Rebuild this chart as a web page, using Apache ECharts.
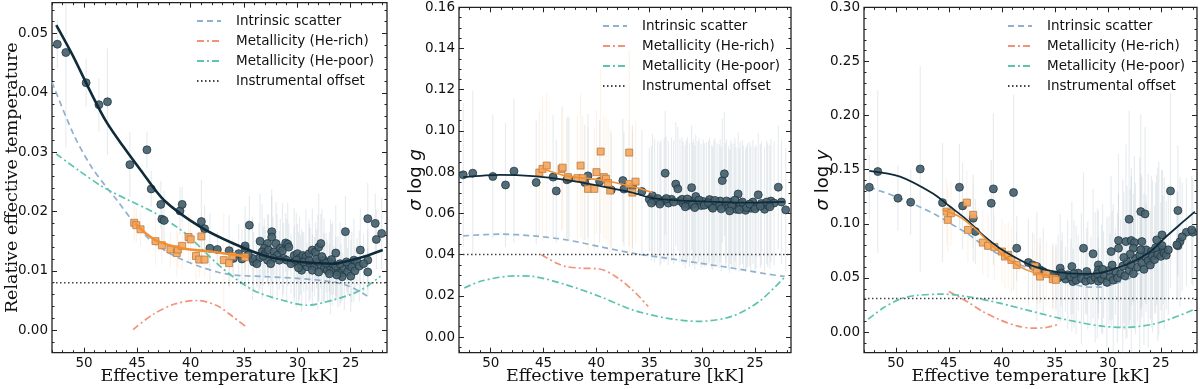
<!DOCTYPE html>
<html><head><meta charset="utf-8">
<script src="https://cdn.jsdelivr.net/npm/echarts@6/dist/echarts.min.js"></script>
<style>html,body{margin:0;padding:0;background:#fff}#c{width:1200px;height:389px}</style>
</head><body><div id="c"></div>
<script>
// ---------- DATA ----------
const xTicks = [25, 30, 35, 40, 45, 50];
const yTicks1 = [0, 0.01, 0.02, 0.03, 0.04, 0.05];
const yTicks2 = [0, 0.02, 0.04, 0.06, 0.08, 0.10, 0.12, 0.14, 0.16];
const yTicks3 = [0, 0.05, 0.10, 0.15, 0.20, 0.25, 0.30];
const legendNames = ['Intrinsic scatter', 'Metallicity (He-rich)', 'Metallicity (He-poor)', 'Instrumental offset'];

// Panel 1: relative effective temperature  [Teff kK, value, error]
const p1Circles = [
[52.5,0.0482,0.004],[51.7,0.0468,0.016],[49.8,0.0417,0.004],[48.6,0.0380,0.0045],[47.8,0.0385,0.009],
[45.7,0.0279,0.0055],[44.1,0.0304,0.003],[43.7,0.0238,0.003],[42.8,0.0212,0.004],[42.7,0.0187,0.0035],
[42.5,0.0185,0.005],[41.0,0.0201,0.004],[40.8,0.0212,0.003],[39.0,0.0183,0.007],[38.7,0.0171,0.004],
[38.2,0.0138,0.006],[37.5,0.0136,0.003],[36.4,0.0134,0.006],[36.0,0.0121,0.003],[35.5,0.0129,0.005],
[34.9,0.0138,0.007],[34.5,0.0177,0.005],[34.9,0.0142,0.004],[33.5,0.0150,0.008],[32.4,0.0166,0.006],
[32.4,0.0157,0.008],[32.8,0.0146,0.005],[32.0,0.0146,0.007],[33.1,0.0138,0.005],[33.3,0.0132,0.008],
[33.0,0.0129,0.004],[32.7,0.0135,0.006],[32.2,0.0132,0.004],[31.9,0.0126,0.007],[31.6,0.0138,0.005],
[31.4,0.0134,0.008],[31.1,0.0147,0.005],[30.9,0.0145,0.007],[30.8,0.0140,0.004],[31.3,0.0121,0.006],
[31.7,0.0118,0.005],[32.3,0.0121,0.007],[32.8,0.0118,0.004],[33.6,0.0121,0.006],[34.1,0.0115,0.005],
[34.2,0.0121,0.007],[33.8,0.0112,0.004],[30.3,0.0126,0.008],[30.0,0.0129,0.005],[29.8,0.0121,0.007],
[29.5,0.0126,0.004],[29.2,0.0124,0.008],[28.9,0.0129,0.005],[28.6,0.0135,0.007],[28.3,0.0132,0.005],
[28.0,0.0140,0.009],[27.8,0.0146,0.005],[30.3,0.0115,0.006],[29.7,0.0110,0.005],[29.6,0.0101,0.007],
[29.1,0.0107,0.004],[28.8,0.0112,0.006],[28.4,0.0107,0.005],[28.1,0.0115,0.008],[27.8,0.0110,0.004],
[27.5,0.0104,0.006],[27.2,0.0101,0.005],[26.9,0.0107,0.008],[26.6,0.0101,0.004],[26.2,0.0098,0.006],
[25.9,0.0096,0.005],[25.6,0.0104,0.007],[25.3,0.0098,0.004],[25.0,0.0091,0.006],[26.4,0.0130,0.008],
[25.5,0.0166,0.006],[24.7,0.0118,0.007],[24.4,0.0115,0.004],[24.1,0.0135,0.007],[23.4,0.0118,0.005],
[23.4,0.0098,0.004],[23.4,0.0188,0.006],[22.7,0.0180,0.005],[22.6,0.0153,0.005],[22.1,0.0163,0.006],
[27.5,0.0118,0.007],[27.0,0.0115,0.005],[26.7,0.0112,0.007],[25.2,0.0110,0.005],[28.6,0.0101,0.006],
[28.0,0.0098,0.005],[25.8,0.0090,0.004],[31.0,0.0118,0.007],[30.6,0.0112,0.005],[30.1,0.0118,0.008],
[29.4,0.0115,0.005],[28.9,0.0117,0.007],[28.2,0.0120,0.005],[27.7,0.0124,0.008],[27.3,0.0113,0.005],
[26.8,0.0119,0.006],[26.4,0.0108,0.005],[26.0,0.0112,0.007],[25.4,0.0115,0.005],[24.9,0.0106,0.006],
[24.6,0.0100,0.004],[32.5,0.0112,0.006],[33.2,0.0125,0.005],[34.6,0.0127,0.006],[35.2,0.0120,0.005],
[29.9,0.0105,0.006],[27.0,0.0095,0.005],[26.3,0.0093,0.004],[24.2,0.0108,0.006],[23.8,0.0112,0.005]
];
const p1Squares = [
[45.3,0.0181,0.003],[45.1,0.0177,0.003],[44.7,0.0170,0.003],[43.3,0.0150,0.004],[42.7,0.0143,0.003],
[41.9,0.0136,0.003],[41.3,0.0130,0.004],[41.2,0.0136,0.003],[40.8,0.0142,0.004],[40.2,0.0157,0.004],
[40.0,0.0153,0.004],[39.5,0.0125,0.004],[39.2,0.0119,0.003],[39.0,0.0158,0.004],[38.7,0.0119,0.003],
[36.9,0.0118,0.008],[36.4,0.0113,0.004],[36.1,0.0125,0.003],[34.9,0.0123,0.003]
];
const p1Fit = [[52.6,0.0514],[51.0,0.0461],[49.4,0.0402],[47.9,0.0351],[46.3,0.0309],[44.7,0.0270],[42.5,0.0219],[39.1,0.0174],[36.0,0.0146],[32.8,0.0124],[29.7,0.0115],[26.6,0.0112],[25.0,0.0118],[23.4,0.0126],[22.0,0.0135]];
const p1FitSq = [[45.2,0.0180],[44.2,0.0163],[43.1,0.0150],[40.9,0.0138],[38.4,0.0133],[35.9,0.0127],[34.6,0.0124]];
const p1Intrinsic = [[53.0,0.0418],[51.0,0.0331],[49.4,0.0278],[47.9,0.0241],[46.9,0.0219],[45.4,0.0183],[43.8,0.0152],[42.2,0.0132],[40.7,0.0118],[39.1,0.0107],[37.5,0.0098],[36.0,0.0093],[32.8,0.0090],[29.7,0.0087],[26.6,0.0081],[25.0,0.0073],[23.4,0.0057]];
const p1HeRich = [[45.4,0.0001],[43.5,0.0027],[41.5,0.0044],[39.4,0.0050],[37.5,0.0041],[36.0,0.0022],[34.9,0.0007]];
const p1HePoor = [[52.6,0.0297],[50.4,0.0268],[48.2,0.0241],[45.7,0.0218],[43.3,0.0197],[40.5,0.0163],[37.2,0.0107],[34.1,0.0067],[30.9,0.0048],[29.1,0.0042],[26.6,0.0051],[24.1,0.0067],[22.2,0.0091]];
const p1Offset = 0.0080;

// Panel 2: sigma log g
const p2Circles = [
[52.6,0.0787,0.035],[51.7,0.0795,0.04],[49.8,0.0779,0.03],[48.6,0.0738,0.03],[47.8,0.0805,0.035],
[45.7,0.0750,0.03],[44.1,0.0776,0.03],[43.8,0.0709,0.025],[42.8,0.0763,0.03],[42.6,0.0768,0.03],
[40.8,0.0782,0.03],[41.1,0.0750,0.028],[39.7,0.0755,0.03],[38.6,0.0714,0.028],[37.5,0.0759,0.03],
[37.4,0.0718,0.028],[36.6,0.0730,0.03],[35.7,0.0706,0.03],[34.7,0.0685,0.03],[33.5,0.0795,0.03],
[35.0,0.0668,0.025],[34.5,0.0660,0.03],[34.2,0.0672,0.028],[33.9,0.0655,0.03],[33.6,0.0663,0.03],
[33.2,0.0650,0.03],[32.9,0.0668,0.03],[32.5,0.0742,0.03],[32.3,0.0719,0.03],[32.1,0.0660,0.03],
[31.8,0.0648,0.03],[31.5,0.0655,0.03],[31.0,0.0725,0.03],[31.2,0.0640,0.03],[30.8,0.0662,0.03],
[30.6,0.0682,0.03],[30.4,0.0650,0.03],[30.1,0.0638,0.03],[29.9,0.0658,0.03],[29.6,0.0645,0.03],
[29.3,0.0667,0.03],[29.1,0.0632,0.03],[28.9,0.0652,0.03],[28.6,0.0640,0.03],[28.3,0.0660,0.03],
[28.1,0.0759,0.03],[27.9,0.0792,0.03],[27.8,0.0642,0.03],[27.5,0.0628,0.03],[27.3,0.0655,0.03],
[27.0,0.0638,0.03],[26.8,0.0620,0.03],[26.6,0.0694,0.03],[26.4,0.0648,0.03],[26.1,0.0630,0.03],
[25.9,0.0615,0.03],[25.7,0.0640,0.03],[25.4,0.0625,0.03],[25.2,0.0655,0.03],[24.9,0.0632,0.03],
[24.7,0.0690,0.03],[24.4,0.0648,0.03],[24.1,0.0620,0.03],[23.8,0.0640,0.03],[23.5,0.0660,0.03],
[23.2,0.0650,0.03],[22.8,0.0727,0.03],[22.5,0.0655,0.03],[22.1,0.0617,0.03],[34.8,0.0650,0.028],
[34.0,0.0645,0.03],[33.4,0.0672,0.03],[32.7,0.0655,0.03],[31.9,0.0668,0.03],[31.4,0.0670,0.03],
[30.9,0.0645,0.03],[30.3,0.0665,0.03],[29.8,0.0640,0.03],[29.4,0.0652,0.03],[28.8,0.0663,0.03],
[28.4,0.0635,0.03],[27.7,0.0660,0.03],[27.2,0.0640,0.03],[26.9,0.0665,0.03],[26.2,0.0655,0.03],
[25.8,0.0628,0.03],[25.5,0.0645,0.03],[25.0,0.0622,0.03],[24.5,0.0635,0.03],[23.9,0.0655,0.03],
[23.6,0.0632,0.03],[27.4,0.0612,0.03],[26.5,0.0618,0.03],[28.2,0.0622,0.03],[29.0,0.0625,0.03],
[30.7,0.0628,0.03],[31.6,0.0632,0.03]
];
const p2Squares = [
[45.4,0.0798,0.03],[45.1,0.0816,0.035],[44.7,0.0832,0.035],[43.3,0.0815,0.03],[43.2,0.0822,0.03],
[42.7,0.0776,0.03],[41.5,0.0832,0.035],[41.8,0.0771,0.03],[41.3,0.0771,0.03],[40.8,0.0719,0.03],
[40.2,0.0719,0.03],[40.0,0.0800,0.03],[39.6,0.0900,0.04],[39.3,0.0776,0.03],[39.1,0.0768,0.03],
[38.9,0.0747,0.03],[38.7,0.0711,0.03],[36.9,0.0895,0.05],[36.9,0.0743,0.03],[36.6,0.0701,0.03],[36.3,0.0754,0.03]
];
const p2Fit = [[52.6,0.0776],[49.1,0.0787],[46.0,0.0781],[42.9,0.0763],[39.7,0.0734],[36.6,0.0701],[34.7,0.0674],[31.9,0.0662],[28.8,0.0656],[25.6,0.0652],[22.2,0.0656]];
const p2FitSq = [[45.2,0.0819],[42.9,0.0782],[39.7,0.0763],[36.6,0.0730],[34.7,0.0701]];
const p2Intrinsic = [[52.6,0.0491],[49.1,0.0499],[46.0,0.0491],[42.9,0.0472],[39.7,0.0439],[36.6,0.0407],[33.4,0.0383],[30.3,0.0359],[27.2,0.0335],[24.0,0.0307],[22.2,0.0294]];
const p2HeRich = [[45.2,0.0399],[43.8,0.0359],[42.9,0.0342],[41.4,0.0334],[39.7,0.0330],[38.2,0.0294],[36.6,0.0229],[35.1,0.0148]];
const p2HePoor = [[52.5,0.0238],[50.8,0.0273],[47.7,0.0297],[46.0,0.0294],[42.9,0.0254],[39.7,0.0197],[36.6,0.0132],[33.4,0.0092],[30.3,0.0076],[27.2,0.0100],[24.6,0.0173],[22.2,0.0291]];
const p2Offset = 0.040;

// Panel 3: sigma log y
const p3Circles = [
[52.5,0.1338,0.03],[51.7,0.1483,0.075],[49.8,0.1237,0.03],[48.6,0.1200,0.03],[47.7,0.1507,0.095],
[45.6,0.1196,0.055],[44.0,0.1338,0.04],[43.7,0.1166,0.04],[42.7,0.1052,0.04],[42.5,0.0929,0.03],
[41.0,0.1190,0.04],[40.8,0.1323,0.07],[38.9,0.1289,0.09],[38.6,0.0775,0.03],[37.5,0.0643,0.04],
[37.1,0.0621,0.03],[36.7,0.0606,0.05],[36.4,0.0575,0.03],[36.1,0.0559,0.04],[34.9,0.0513,0.03],
[34.5,0.0591,0.05],[34.4,0.0545,0.03],[33.4,0.0606,0.06],[33.3,0.0467,0.03],[32.3,0.0775,0.07],
[31.4,0.0723,0.06],[30.9,0.0621,0.05],[30.9,0.0575,0.03],[29.7,0.0744,0.07],[29.0,0.0846,0.08],
[29.0,0.0775,0.05],[28.3,0.0836,0.09],[28.0,0.1043,0.1],[27.8,0.0846,0.06],[27.5,0.0827,0.08],
[27.6,0.0775,0.05],[26.9,0.1113,0.09],[26.5,0.1092,0.08],[26.8,0.0836,0.06],[26.4,0.0760,0.05],
[25.9,0.0744,0.07],[25.4,0.0852,0.06],[25.2,0.0775,0.08],[24.8,0.0760,0.05],[24.1,0.1304,0.09],
[23.4,0.1123,0.06],[23.4,0.0797,0.05],[23.2,0.0836,0.06],[22.6,0.0923,0.05],[22.0,0.0923,0.05],
[24.9,0.0898,0.06],[23.5,0.0806,0.05],[22.1,0.0944,0.05],[23.0,0.0880,0.05],
[35.2,0.0520,0.03],[34.7,0.0500,0.04],[34.0,0.0490,0.03],[33.8,0.0530,0.05],[33.5,0.0510,0.035],
[33.0,0.0480,0.05],[32.8,0.0545,0.035],[32.5,0.0495,0.06],[32.1,0.0470,0.03],[31.9,0.0525,0.05],
[31.6,0.0480,0.04],[31.2,0.0505,0.06],[30.9,0.0470,0.03],[30.6,0.0490,0.05],[30.4,0.0530,0.04],
[30.1,0.0460,0.06],[29.8,0.0510,0.04],[29.5,0.0480,0.07],[29.3,0.0560,0.04],[29.1,0.0500,0.06],
[28.8,0.0540,0.05],[28.6,0.0610,0.08],[28.4,0.0520,0.05],[28.2,0.0650,0.07],[28.0,0.0570,0.05],
[27.8,0.0620,0.09],[27.6,0.0540,0.05],[27.4,0.0680,0.07],[27.2,0.0600,0.05],[27.0,0.0710,0.09],
[26.8,0.0640,0.05],[26.6,0.0580,0.07],[26.4,0.0690,0.05],[26.2,0.0660,0.08],[26.0,0.0620,0.05],
[25.8,0.0700,0.07],[25.6,0.0670,0.05],[25.3,0.0720,0.08],[25.0,0.0700,0.05],[24.7,0.0730,0.07],
[24.5,0.0710,0.05],[24.3,0.0760,0.06],[29.9,0.0570,0.05],[31.0,0.0540,0.06],[32.0,0.0560,0.04],
[33.2,0.0540,0.05],[34.3,0.0520,0.04],[27.9,0.0720,0.06],[26.9,0.0760,0.07],[25.5,0.0780,0.06],
[24.9,0.0800,0.07],[28.5,0.0690,0.06],[29.6,0.0620,0.05],[30.5,0.0580,0.06]
];
const p3Squares = [
[45.2,0.1113,0.03],[45.1,0.1037,0.03],[44.8,0.1098,0.03],[43.3,0.1196,0.03],[43.2,0.0944,0.03],
[42.7,0.1083,0.03],[41.8,0.0827,0.03],[41.3,0.0797,0.03],[40.7,0.0785,0.03],[40.0,0.0744,0.03],
[39.7,0.0698,0.03],[39.4,0.0714,0.03],[39.1,0.0667,0.03],[38.6,0.0621,0.03],[36.9,0.0606,0.03],
[36.7,0.0559,0.03],[36.4,0.0513,0.03],[35.8,0.0538,0.03],[35.2,0.0489,0.03],[34.9,0.0483,0.03]
];
const p3Fit = [[52.5,0.1490],[49.6,0.1436],[46.5,0.1280],[44.9,0.1160],[43.3,0.1037],[41.8,0.0898],[40.2,0.0775],[38.6,0.0683],[37.1,0.0612],[35.5,0.0569],[33.9,0.0545],[32.3,0.0538],[30.8,0.0545],[29.2,0.0591],[27.6,0.0652],[26.0,0.0744],[24.5,0.0883],[22.9,0.1020],[21.8,0.1113]];
const p3FitSq = [[45.6,0.1129],[44.0,0.1067],[42.4,0.0944],[40.8,0.0790],[39.3,0.0667],[37.7,0.0575],[36.1,0.0529],[34.7,0.0520]];
const p3Intrinsic = [[52.5,0.1338],[49.6,0.1237],[46.5,0.1098],[44.9,0.1006],[43.3,0.0914],[41.8,0.0806],[40.2,0.0714],[38.6,0.0637],[37.1,0.0575],[35.5,0.0513],[33.9,0.0467],[32.3,0.0421],[30.8,0.0415],[29.2,0.0452],[27.6,0.0513],[26.0,0.0606],[25.1,0.0683]];
const p3HeRich = [[45.0,0.0375],[43.3,0.0283],[41.8,0.0190],[40.2,0.0114],[38.6,0.0058],[37.1,0.0037],[35.8,0.0043],[34.8,0.0068]];
const p3HePoor = [[52.6,0.0120],[51.2,0.0222],[49.6,0.0305],[48.1,0.0338],[45.6,0.0351],[43.3,0.0329],[40.2,0.0268],[37.1,0.0190],[33.9,0.0114],[30.8,0.0058],[28.6,0.0043],[26.0,0.0068],[23.9,0.0129],[21.8,0.0212]];
const p3Offset = 0.031;

// ---------- STYLE / LAYOUT ----------
const X_MIN = 21.6, X_MAX = 53;
const C = {
  circle: '#45616d', circleEdge: '#1c323d', square: '#f6aa63', squareEdge: '#b5773f',
  fit: '#0f2b3a', fitSq: '#f18f32', intr: '#8fb1cf', rich: '#f3927a', poor: '#5cc4ae', off: '#444',
  errC: 'rgba(160,176,188,0.26)', errS: 'rgba(248,196,150,0.22)'
};
const SANS = 'DejaVu Sans', SERIF = 'DejaVu Serif';

function range(lo, hi, step) {
  const out = [];
  for (let k = Math.ceil(lo / step - 1e-9); k * step <= hi + 1e-9; k++) out.push(+(k * step).toFixed(6));
  return out;
}

const option = { animation: false, backgroundColor: '#fff', grid: [], xAxis: [], yAxis: [], series: [], legend: [] };

function addPanel(idx, cfg) {
  option.grid.push({ left: cfg.left, top: cfg.top, width: cfg.width, height: cfg.height, show: true,
    borderColor: '#222', borderWidth: 1.3, backgroundColor: 'transparent', outerBoundsMode: 'none', containLabel: false });
  const xMinor = range(22, 53, 1);
  const yMinor = range(cfg.yMin, cfg.yMax, cfg.yMinorStep);
  const base = idx * 4;
  const tickStyle = { color: '#222', width: 1 };
  const noLine = { show: false, onZero: false };
  const xCommon = { gridIndex: idx, type: 'value', min: X_MIN, max: X_MAX, inverse: true,
    axisLine: noLine, splitLine: { show: false } };
  option.xAxis.push(
    Object.assign({}, xCommon, { position: 'bottom',
      axisTick: { show: true, inside: true, length: 5, lineStyle: tickStyle, customValues: xTicks },
      axisLabel: { show: true, customValues: xTicks, margin: 4, fontSize: 13.5, color: '#111', fontFamily: SANS },
      name: 'Effective temperature [kK]', nameLocation: 'middle', nameGap: 15, nameMoveOverlap: false,
      nameTextStyle: { fontFamily: SERIF, fontSize: 17.5, color: '#111' } }),
    Object.assign({}, xCommon, { position: 'bottom',
      axisTick: { show: true, inside: true, length: 2.5, lineStyle: tickStyle, customValues: xMinor },
      axisLabel: { show: false } }),
    Object.assign({}, xCommon, { position: 'top',
      axisTick: { show: true, inside: true, length: 5, lineStyle: tickStyle, customValues: xTicks },
      axisLabel: { show: false } }),
    Object.assign({}, xCommon, { position: 'top',
      axisTick: { show: true, inside: true, length: 2.5, lineStyle: tickStyle, customValues: xMinor },
      axisLabel: { show: false } })
  );
  const yCommon = { gridIndex: idx, type: 'value', min: cfg.yMin, max: cfg.yMax,
    axisLine: noLine, splitLine: { show: false } };
  option.yAxis.push(
    Object.assign({}, yCommon, { position: 'left',
      axisTick: { show: true, inside: true, length: 5, lineStyle: tickStyle, customValues: cfg.yTicks },
      axisLabel: { show: true, customValues: cfg.yTicks, margin: 4, fontSize: 13.5, color: '#111', fontFamily: SANS,
        formatter: v => v.toFixed(2) },
      name: cfg.yName, nameLocation: 'middle', nameGap: cfg.yNameGap, nameMoveOverlap: false,
      nameTextStyle: cfg.yNameStyle }),
    Object.assign({}, yCommon, { position: 'left',
      axisTick: { show: true, inside: true, length: 2.5, lineStyle: tickStyle, customValues: yMinor },
      axisLabel: { show: false } }),
    Object.assign({}, yCommon, { position: 'right',
      axisTick: { show: true, inside: true, length: 5, lineStyle: tickStyle, customValues: cfg.yTicks },
      axisLabel: { show: false } }),
    Object.assign({}, yCommon, { position: 'right',
      axisTick: { show: true, inside: true, length: 2.5, lineStyle: tickStyle, customValues: yMinor },
      axisLabel: { show: false } })
  );
  const ax = { xAxisIndex: base, yAxisIndex: base };
  const errSeries = (data, color) => Object.assign({
    type: 'custom', data: data, clip: true, z: 1, silent: true,
    encode: { x: 0, y: 1 },
    renderItem: (params, api) => {
      const x = api.value(0), y = api.value(1), e = api.value(2);
      const a = api.coord([x, y - e]), b = api.coord([x, y + e]);
      return { type: 'line', shape: { x1: a[0], y1: a[1], x2: b[0], y2: b[1] }, style: { stroke: color, lineWidth: 1.1 } };
    }
  }, ax);
  const lineSeries = (name, data, color, dash, width, z, smooth) => Object.assign({
    type: 'line', name: name, data: data, symbol: 'none', showSymbol: false, smooth: smooth === undefined ? 0.3 : smooth,
    clip: true, z: z, silent: true,
    itemStyle: { color: color, opacity: 0 },
    lineStyle: { color: color, width: width, type: dash, cap: 'butt' }
  }, ax);
  option.series.push(
    errSeries(cfg.circles, C.errC),
    errSeries(cfg.squares, C.errS),
    lineSeries('Intrinsic scatter', cfg.intr, C.intr, [6, 4], 1.7, 2),
    lineSeries('Metallicity (He-rich)', cfg.rich, C.rich, [7, 3, 2, 3], 1.7, 2),
    lineSeries('Metallicity (He-poor)', cfg.poor, C.poor, [7, 3, 2, 3], 1.7, 2),
    lineSeries('Instrumental offset', [[X_MAX, cfg.offset], [X_MIN, cfg.offset]], C.off, [1.5, 2.5], 1.5, 2, false),
    Object.assign({ type: 'scatter', data: cfg.circles, symbol: 'circle', symbolSize: 8, z: 3, silent: true,
      itemStyle: { color: C.circle, borderColor: C.circleEdge, borderWidth: 0.8, opacity: 0.92 } }, ax),
    Object.assign({ type: 'scatter', data: cfg.squares, symbol: 'rect', symbolSize: 7, z: 4, silent: true,
      itemStyle: { color: C.square, borderColor: C.squareEdge, borderWidth: 0.8, opacity: 0.95 } }, ax),
    lineSeries('fit', cfg.fit, C.fit, 'solid', cfg.fitW, 5),
    lineSeries('fitSq', cfg.fitSq, C.fitSq, 'solid', cfg.fitSqW, 5)
  );
  option.legend.push({ data: legendNames, orient: 'vertical', left: cfg.legLeft, top: cfg.legTop,
    itemWidth: 24, itemHeight: 14, itemGap: 6, selectedMode: false, padding: 0,
    itemStyle: { opacity: 0 },
    textStyle: { fontFamily: SANS, fontSize: 13.5, color: '#111', lineHeight: 14, padding: [0, 0, 0, 10] } });
}

const serifName = { fontFamily: SERIF, fontSize: 17.5, color: '#111' };
const mathName = { fontFamily: SANS, fontSize: 18, color: '#111', rich: { i: { fontFamily: SANS, fontStyle: 'italic', fontSize: 18, color: '#111' } } };

addPanel(0, { left: 52, top: 2.7, width: 335, height: 350, yMin: -0.0038, yMax: 0.0552, yTicks: yTicks1, yMinorStep: 0.002,
  yName: 'Relative effective temperature', yNameGap: 31, yNameStyle: serifName,
  circles: p1Circles, squares: p1Squares, fit: p1Fit, fitSq: p1FitSq, intr: p1Intrinsic, rich: p1HeRich, poor: p1HePoor,
  offset: p1Offset, fitW: 2.6, fitSqW: 2.6, legLeft: 196, legTop: 14 });
addPanel(1, { left: 459, top: 7.3, width: 332, height: 345.4, yMin: -0.0076, yMax: 0.16, yTicks: yTicks2, yMinorStep: 0.005,
  yName: '{i|σ} log {i|g}', yNameGap: 34, yNameStyle: mathName,
  circles: p2Circles, squares: p2Squares, fit: p2Fit, fitSq: p2FitSq, intr: p2Intrinsic, rich: p2HeRich, poor: p2HePoor,
  offset: p2Offset, fitW: 1.8, fitSqW: 1.6, legLeft: 602, legTop: 19 });
addPanel(2, { left: 864, top: 7.3, width: 333, height: 345.4, yMin: -0.019, yMax: 0.30, yTicks: yTicks3, yMinorStep: 0.01,
  yName: '{i|σ} log {i|y}', yNameGap: 32, yNameStyle: mathName,
  circles: p3Circles, squares: p3Squares, fit: p3Fit, fitSq: p3FitSq, intr: p3Intrinsic, rich: p3HeRich, poor: p3HePoor,
  offset: p3Offset, fitW: 1.8, fitSqW: 1.6, legLeft: 1007, legTop: 19 });

const chart = echarts.init(document.getElementById('c'), null, { renderer: 'canvas' });
chart.setOption(option);
</script></body></html>
